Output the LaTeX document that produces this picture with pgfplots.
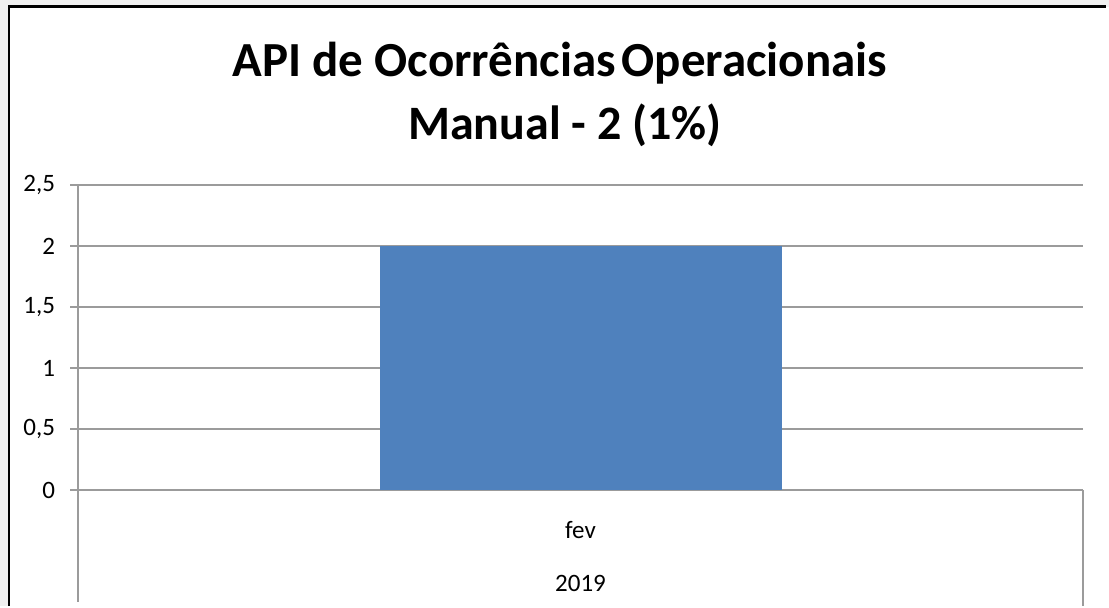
\documentclass[border=0pt]{standalone}
\usepackage{pgfplots}
\pgfplotsset{compat=1.18}
\usepackage{fontspec}
\setmainfont{Carlito}
\definecolor{barblue}{RGB}{79,129,189}
\definecolor{axgray}{RGB}{155,155,155}
\definecolor{bggray}{RGB}{240,240,240}
\begin{document}
\begin{tikzpicture}
\fill[bggray] (0,0) rectangle (554.5pt,303pt);
\fill[white] (4.5pt,0) rectangle (554.5pt,299.75pt);
\draw[line width=1.4pt,black] (4.5pt,0) -- (4.5pt,299.75pt) -- (553pt,299.75pt);
\node[font=\fontsize{24.5}{30}\selectfont\bfseries] at (280pt,271.5pt) {API de Ocorrências\hspace{0.12em}Operacionais};
\node[font=\fontsize{24}{30}\selectfont\bfseries] at (282.5pt,240.5pt) {Manual - 2 (1\%)};
\begin{axis}[
  at={(39pt,58pt)}, anchor=south west,
  scale only axis, width=502.5pt, height=152.5pt,
  xmin=-0.5, xmax=0.5, ymin=0, ymax=2.5,
  axis x line*=bottom, axis y line*=left,
  axis line style={axgray, line width=0.9pt},
  xtick=\empty,
  ytick={0,0.5,1,1.5,2,2.5},
  yticklabels={0,{0,5},1,{1,5},2,{2,5}},
  tick align=outside, major tick length=4pt,
  tick style={axgray, line width=0.9pt},
  ymajorgrids, grid style={axgray, line width=0.9pt},
  yticklabel style={font=\fontsize{12.5}{14}\selectfont, xshift=-4pt},
  clip=false,
]
\addplot[ybar, bar width=0.4, fill=barblue, draw=none] coordinates {(0,2)};
\draw[axgray, line width=0.9pt] (rel axis cs:0,0) -- ([yshift=-56pt]rel axis cs:0,0);
\draw[axgray, line width=0.9pt] (rel axis cs:1,0) -- ([yshift=-58pt]rel axis cs:1,0);
\node[font=\fontsize{12.5}{14}\selectfont] at ([yshift=-20pt]rel axis cs:0.5,0) {fev};
\node[font=\fontsize{12.5}{14}\selectfont] at ([yshift=-46.5pt]rel axis cs:0.5,0) {2019};
\end{axis}
\end{tikzpicture}
\end{document}
